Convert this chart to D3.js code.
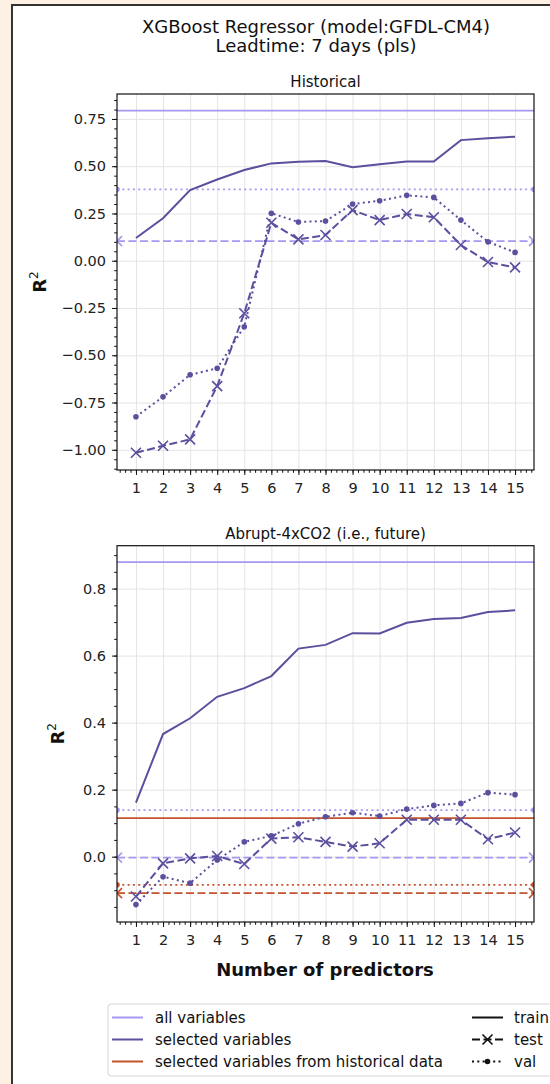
<!DOCTYPE html>
<html>
<head>
<meta charset="utf-8">
<script src="https://cdn.jsdelivr.net/npm/d3@7"></script>
<style>
  body { margin: 0; background: #fdf1e4; }
  svg { display: block; font-family: "DejaVu Sans", sans-serif; }
</style>
</head>
<body>
<div id="chart"></div>
<script>
// x categories
const predictors = [1, 2, 3, 4, 5, 6, 7, 8, 9, 10, 11, 12, 13, 14, 15];

// Historical panel, selected variables
const histTrain = [0.12, 0.225, 0.374, 0.43, 0.48, 0.515, 0.523, 0.527, 0.495, 0.51, 0.525, 0.525, 0.638, 0.648, 0.656];
const histTest  = [-1.016, -0.979, -0.945, -0.663, -0.278, 0.201, 0.113, 0.136, 0.268, 0.215, 0.247, 0.23, 0.083, -0.007, -0.035];
const histVal   = [-0.825, -0.72, -0.603, -0.569, -0.349, 0.251, 0.205, 0.21, 0.30, 0.317, 0.346, 0.335, 0.215, 0.10, 0.044];

// Abrupt-4xCO2 panel, selected variables
const futTrain = [0.161, 0.366, 0.413, 0.477, 0.503, 0.539, 0.621, 0.632, 0.667, 0.666, 0.698, 0.709, 0.712, 0.730, 0.735];
const futTest  = [-0.119, -0.020, -0.005, 0.002, -0.022, 0.054, 0.058, 0.044, 0.030, 0.040, 0.110, 0.110, 0.110, 0.052, 0.072];
const futVal   = [-0.143, -0.060, -0.079, -0.010, 0.044, 0.062, 0.098, 0.119, 0.131, 0.121, 0.142, 0.153, 0.159, 0.191, 0.185];

// constant reference scores: [train, test, val]
const histAllVars = [0.794, 0.104, 0.378];
const futAllVars = [0.879, -0.003, 0.139];
const futFromHist = [0.115, -0.109, -0.084];

// tick labels
const histYTicks = [-1.0, -0.75, -0.5, -0.25, 0.0, 0.25, 0.5, 0.75];
const futYTicks = [0.0, 0.2, 0.4, 0.6, 0.8];

const legendColours = ["all variables", "selected variables", "selected variables from historical data"];
const legendStyles = ["train", "test", "val"];

const width = 550, height = 1084;
const colAll = "#a797f0", colSel = "#5b4f9e", colHist = "#c4532d";
const dashTest = "8,3.5", dashVal = "2,3.3";

const svg = d3.select("#chart").append("svg")
  .attr("width", width).attr("height", height);

// figure frame
svg.append("rect").attr("x", 12).attr("y", 5).attr("width", 620).attr("height", 1100)
  .attr("fill", "white").attr("stroke", "#333").attr("stroke-width", 2);

svg.append("text").attr("x", 316).attr("y", 33).attr("text-anchor", "middle")
  .attr("font-size", 18).attr("fill", "#111").text("XGBoost Regressor (model:GFDL-CM4)");
svg.append("text").attr("x", 316).attr("y", 52).attr("text-anchor", "middle")
  .attr("font-size", 18).attr("fill", "#111").text("Leadtime: 7 days (pls)");

const x = d3.scaleLinear().domain([0.3, 15.7]).range([117, 534]);

function xMarker(sel, cx, cy, color) {
  sel.append("path")
    .attr("d", `M${cx - 5},${cy - 5}L${cx + 5},${cy + 5}M${cx - 5},${cy + 5}L${cx + 5},${cy - 5}`)
    .attr("stroke", color).attr("stroke-width", 1.6).attr("fill", "none");
}
function dotMarker(sel, cx, cy, color) {
  sel.append("circle").attr("cx", cx).attr("cy", cy).attr("r", 2.8).attr("fill", color);
}

function drawPanel(cfg, idx) {
  const y = d3.scaleLinear().domain(cfg.yDomain).range([cfg.bottom, cfg.top]);
  const g = svg.append("g");
  const left = x.range()[0], right = x.range()[1];
  const h = cfg.bottom - cfg.top;

  g.append("text").attr("x", (left + right) / 2).attr("y", cfg.top - 7)
    .attr("text-anchor", "middle").attr("font-size", 15).attr("fill", "#111").text(cfg.title);

  // grid
  g.append("g").attr("transform", `translate(0,${cfg.bottom})`)
    .call(d3.axisBottom(x).tickValues(predictors).tickSize(-h).tickFormat(""))
    .call(a => a.select(".domain").remove())
    .selectAll("line").attr("stroke", "#e4e4e4");
  g.append("g").attr("transform", `translate(${left},0)`)
    .call(d3.axisLeft(y).tickValues(cfg.yTicks).tickSize(-(right - left)).tickFormat(""))
    .call(a => a.select(".domain").remove())
    .selectAll("line").attr("stroke", "#e4e4e4");

  const clipId = "clip" + idx;
  g.append("clipPath").attr("id", clipId).append("rect")
    .attr("x", left).attr("y", cfg.top).attr("width", right - left).attr("height", h);
  const plot = g.append("g").attr("clip-path", `url(#${clipId})`);

  // constant reference lines, markers sit on the axes edges
  cfg.refs.forEach(r => {
    const [tr, te, va] = r.values;
    plot.append("line").attr("x1", left).attr("x2", right).attr("y1", y(tr)).attr("y2", y(tr))
      .attr("stroke", r.color).attr("stroke-width", 1.8);
    plot.append("line").attr("x1", left).attr("x2", right).attr("y1", y(te)).attr("y2", y(te))
      .attr("stroke", r.color).attr("stroke-width", 1.8).attr("stroke-dasharray", dashTest);
    plot.append("line").attr("x1", left).attr("x2", right).attr("y1", y(va)).attr("y2", y(va))
      .attr("stroke", r.color).attr("stroke-width", 1.8).attr("stroke-dasharray", dashVal);
    [left, right].forEach(px => {
      xMarker(plot, px, y(te), r.color);
      dotMarker(plot, px, y(va), r.color);
    });
  });

  const line = d3.line().x((d, i) => x(predictors[i])).y(d => y(d));
  plot.append("path").attr("d", line(cfg.train)).attr("fill", "none")
    .attr("stroke", colSel).attr("stroke-width", 2);
  plot.append("path").attr("d", line(cfg.test)).attr("fill", "none")
    .attr("stroke", colSel).attr("stroke-width", 2).attr("stroke-dasharray", dashTest);
  plot.append("path").attr("d", line(cfg.val)).attr("fill", "none")
    .attr("stroke", colSel).attr("stroke-width", 2).attr("stroke-dasharray", dashVal);
  cfg.test.forEach((v, i) => xMarker(plot, x(predictors[i]), y(v), colSel));
  cfg.val.forEach((v, i) => dotMarker(plot, x(predictors[i]), y(v), colSel));

  // spines
  g.append("rect").attr("x", left).attr("y", cfg.top).attr("width", right - left).attr("height", h)
    .attr("fill", "none").attr("stroke", "#111").attr("stroke-width", 1.2);

  // axes
  const styleAxis = a => {
    a.select(".domain").remove();
    a.selectAll("line").attr("stroke", "#111");
    a.selectAll("text").attr("font-size", 14.5).attr("fill", "#222")
      .attr("font-family", "DejaVu Sans, sans-serif");
  };
  g.append("g").attr("transform", `translate(0,${cfg.bottom})`)
    .call(d3.axisBottom(x).tickValues(predictors).tickSize(5).tickPadding(8).tickFormat(d3.format("d")))
    .call(styleAxis);
  g.append("g").attr("transform", `translate(0,${cfg.bottom})`)
    .call(d3.axisBottom(x).tickValues(d3.range(0.4, 15.7, 0.2)).tickSize(2.8).tickFormat(""))
    .call(styleAxis);
  g.append("g").attr("transform", `translate(${left},0)`)
    .call(d3.axisLeft(y).tickValues(cfg.yTicks).tickSize(5).tickPadding(6).tickFormat(d3.format(cfg.fmt)))
    .call(styleAxis);
  const [y0, y1] = cfg.yDomain;
  g.append("g").attr("transform", `translate(${left},0)`)
    .call(d3.axisLeft(y).tickValues(d3.range(Math.ceil(y0 / 0.05) * 0.05, y1, 0.05)).tickSize(2.8).tickFormat(""))
    .call(styleAxis);

  const lab = g.append("text")
    .attr("transform", `translate(${cfg.labelX},${(cfg.top + cfg.bottom) / 2}) rotate(-90)`)
    .attr("text-anchor", "middle").attr("font-size", 18).attr("font-weight", "bold").attr("fill", "#111");
  lab.append("tspan").text("R");
  lab.append("tspan").attr("font-size", 12).attr("font-weight", "normal").attr("dy", -8).text("2");
}

drawPanel({
  title: "Historical", top: 94, bottom: 470, yDomain: [-1.107, 0.882],
  yTicks: histYTicks, fmt: ".2f", labelX: 45.5,
  train: histTrain, test: histTest, val: histVal,
  refs: [{ values: histAllVars, color: colAll }]
}, 0);

drawPanel({
  title: "Abrupt-4xCO2 (i.e., future)", top: 545.7, bottom: 922, yDomain: [-0.195, 0.928],
  yTicks: futYTicks, fmt: ".1f", labelX: 63.5,
  train: futTrain, test: futTest, val: futVal,
  refs: [{ values: futAllVars, color: colAll }, { values: futFromHist, color: colHist }]
}, 1);

svg.append("text").attr("x", 325).attr("y", 976).attr("text-anchor", "middle")
  .attr("font-size", 18).attr("font-weight", "bold").attr("fill", "#111").text("Number of predictors");

// legend
const leg = svg.append("g");
leg.append("rect").attr("x", 108).attr("y", 1004).attr("width", 480).attr("height", 72).attr("rx", 3)
  .attr("fill", "white").attr("stroke", "#d4d4d4");
const legCols = [colAll, colSel, colHist];
legendColours.forEach((name, i) => {
  const cy = 1017.5 + i * 22;
  leg.append("line").attr("x1", 112).attr("x2", 143).attr("y1", cy).attr("y2", cy)
    .attr("stroke", legCols[i]).attr("stroke-width", 2);
  leg.append("text").attr("x", 155).attr("y", cy).attr("dy", "0.35em")
    .attr("font-size", 15).attr("fill", "#111").text(name);
});
const legDash = [null, dashTest, dashVal];
legendStyles.forEach((name, i) => {
  const cy = 1017.5 + i * 22;
  leg.append("line").attr("x1", 472).attr("x2", 503).attr("y1", cy).attr("y2", cy)
    .attr("stroke", "#111").attr("stroke-width", 2).attr("stroke-dasharray", legDash[i]);
  if (i === 1) xMarker(leg, 487.5, cy, "#111");
  if (i === 2) dotMarker(leg, 487.5, cy, "#111");
  leg.append("text").attr("x", 514).attr("y", cy).attr("dy", "0.35em")
    .attr("font-size", 15).attr("fill", "#111").text(name);
});
</script>
</body>
</html>
